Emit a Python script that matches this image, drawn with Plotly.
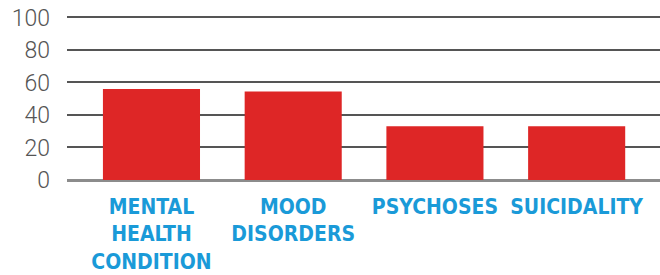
import plotly.graph_objects as go

categories = ["MENTAL<br>HEALTH<br>CONDITION", "MOOD<br>DISORDERS", "PSYCHOSES", "SUICIDALITY"]
values = [56, 54.5, 33, 33]
y_ticks = [0, 20, 40, 60, 80, 100]

fig = go.Figure(
    go.Bar(
        x=categories,
        y=values,
        marker=dict(color="#de2626", line=dict(width=0)),
        hoverinfo="skip",
    )
)

fig.update_layout(
    width=660,
    height=275,
    margin=dict(l=67, r=0, t=15, b=95),
    paper_bgcolor="white",
    plot_bgcolor="white",
    bargap=0.315,
    showlegend=False,
)

fig.update_xaxes(
    range=[-0.596, 3.588],
    automargin=False,
    showgrid=False,
    showline=False,
    ticks="",
    tickangle=0,
    tickfont=dict(family="'DejaVu Sans Condensed', 'Liberation Sans Narrow', sans-serif",
                  size=21, color="#1a9ad8", weight="bold"),
    ticklabelstandoff=12,
)

fig.update_yaxes(
    range=[0, 101.5],
    automargin=False,
    tickvals=y_ticks,
    ticktext=[str(v) for v in y_ticks],
    ticklabeloverflow="allow",
    showgrid=True,
    gridcolor="#555555",
    gridwidth=1.5,
    zeroline=True,
    zerolinecolor="#8c8c8c",
    zerolinewidth=2.5,
    showline=False,
    ticks="",
    tickfont=dict(family="Roboto", size=23, color="#555555", weight=300),
    ticklabelstandoff=16,
)

# remove the browser's default 8px body margin so the figure fills the window
fig.write_html(
    "out.html",
    config={"displayModeBar": False},
    post_script="document.body.style.margin='0';document.body.style.overflow='hidden';",
)
